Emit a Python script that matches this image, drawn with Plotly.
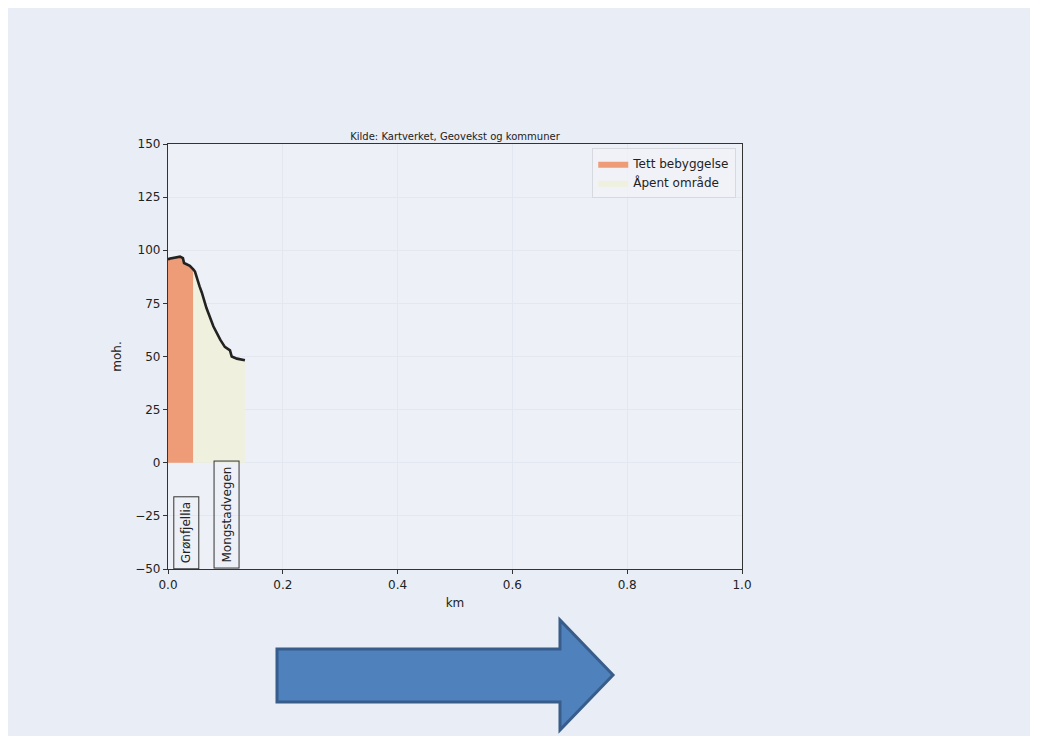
import plotly.graph_objects as go

# ---- data ----
dist_km = [0.0, 0.002, 0.021, 0.026, 0.028, 0.038, 0.044, 0.047, 0.055, 0.059,
           0.067, 0.079, 0.091, 0.099, 0.108, 0.111, 0.120, 0.134]
elev_m = [95.5, 96.0, 97.0, 96.3, 94.0, 92.7, 91.0, 90.0, 83.0, 80.0,
          72.8, 64.2, 57.9, 54.5, 52.9, 50.0, 49.0, 48.2]
zone_names = ["Tett bebyggelse", "Åpent område"]
zone_start_km = [0.0, 0.044]
zone_end_km = [0.044, 0.134]
zone_colors = ["#EE9C78", "#EFF0DD"]

place_names = ["Grønfjellia", "Mongstadvegen"]
place_km = [0.031, 0.102]

x_ticks = [0.0, 0.2, 0.4, 0.6, 0.8, 1.0]
y_ticks = [-50, -25, 0, 25, 50, 75, 100, 125, 150]

# ---- figure geometry (page has an 8px body margin) ----
OFF = 8
W, H = 1030, 728
L, R, T, B = 168 - OFF, 742 - OFF, 144 - OFF, 569 - OFF

fig = go.Figure()

for name, x0, x1, col in zip(zone_names, zone_start_km, zone_end_km, zone_colors):
    xs = [d for d in dist_km if x0 <= d <= x1]
    ys = [e for d, e in zip(dist_km, elev_m) if x0 <= d <= x1]
    fig.add_trace(go.Scatter(
        x=xs, y=ys, mode="lines", fill="tozeroy",
        line=dict(width=0, color=col), fillcolor=col, name=name,
        hoverinfo="skip"))

fig.add_trace(go.Scatter(
    x=dist_km, y=elev_m, mode="lines",
    line=dict(color="#222222", width=2.6), showlegend=False))

for name, xk in zip(place_names, place_km):
    fig.add_annotation(
        x=xk, y=-50, xref="x", yref="y", text=name, textangle=-90,
        showarrow=False, yanchor="bottom", xanchor="center",
        font=dict(family="DejaVu Sans", size=12, color="#222222"),
        bordercolor="#333333", borderwidth=1, borderpad=5,
        bgcolor="rgba(0,0,0,0)")

def px(xp):
    return (xp - OFF - L) / (R - L)

def py(yp):
    return (B - (yp - OFF)) / (B - T)

arrow_pts = [(277, 649), (560, 649), (560, 620), (613, 675), (560, 730), (560, 702), (277, 702)]
path = "M " + " L ".join(f"{px(a):.4f},{py(b):.4f}" for a, b in arrow_pts) + " Z"
fig.add_shape(type="path", path=path, xref="paper", yref="paper",
              fillcolor="#4F81BD", line=dict(color="#385D8A", width=3), layer="above")

axis_common = dict(
    showline=True, linecolor="#333333", linewidth=1.2, mirror=True,
    ticks="outside", ticklen=4, tickcolor="#333333", tickwidth=1,
    showgrid=True, gridcolor="#E3E7EF", gridwidth=1, zeroline=False,
    tickfont=dict(family="DejaVu Sans", size=12, color="#222222"),
)

fig.update_layout(
    width=W, height=H,
    margin=dict(l=L, r=W - R, t=T, b=H - B),
    paper_bgcolor="#E9EDF5", plot_bgcolor="#EDF0F7",
    font=dict(family="DejaVu Sans", color="#222222"),
    title=dict(text="Kilde: Kartverket, Geovekst og kommuner",
               x=(455 - OFF) / W, xanchor="center", y=1 - (136 - OFF) / H, yanchor="middle",
               font=dict(family="DejaVu Sans", size=10, color="#222222")),
    xaxis=dict(range=[0, 1], tickvals=x_ticks, ticktext=[f"{v:.1f}" for v in x_ticks],
               title=dict(text="km", font=dict(size=12), standoff=8), **axis_common),
    yaxis=dict(range=[-50, 150], tickvals=y_ticks,
               ticktext=[("−" + str(-v)) if v < 0 else str(v) for v in y_ticks],
               title=dict(text="moh.", font=dict(size=12), standoff=10), **axis_common),
    legend=dict(x=0.99, y=0.99, xanchor="right", yanchor="top",
                bgcolor="rgba(240,243,248,0.8)", bordercolor="#D6D9E0", borderwidth=1,
                font=dict(family="DejaVu Sans", size=12, color="#222222"),
                tracegroupgap=0),
    showlegend=True,
)

fig.write_html("out.html")
